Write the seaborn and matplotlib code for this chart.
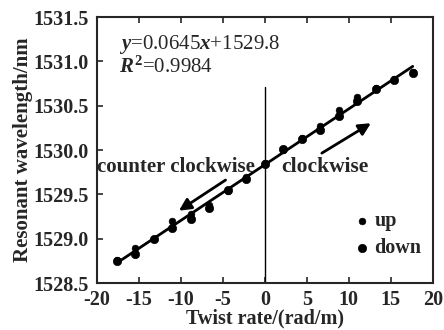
import numpy as np
import pandas as pd
import matplotlib
matplotlib.use("Agg")
import matplotlib.pyplot as plt
import seaborn as sns

# Dados
twist_rate = [-17.6, -15.4, -13.2, -11.0, -8.8, -6.6, -4.4, -2.2, 0.0,
              2.2, 4.4, 6.6, 8.8, 11.0, 13.2, 15.4, 17.6]
wl_up = [1528.76, 1528.90, 1529.00, 1529.20, 1529.28, 1529.38, 1529.54, 1529.70, 1529.85,
         1530.00, 1530.14, 1530.27, 1530.45, 1530.60, 1530.70, 1530.80, 1530.88]
wl_down = [1528.75, 1528.83, 1529.00, 1529.12, 1529.22, 1529.35, 1529.55, 1529.68, 1529.84,
           1530.01, 1530.13, 1530.23, 1530.38, 1530.55, 1530.69, 1530.79, 1530.87]
x_ticks = [-20, -15, -10, -5, 0, 5, 10, 15, 20]
y_ticks = [1528.5, 1529.0, 1529.5, 1530.0, 1530.5, 1531.0, 1531.5]

sns.set_style("ticks")
plt.rcParams['font.family'] = ['Liberation Serif', 'DejaVu Serif']
plt.rcParams['font.weight'] = 'bold'
plt.rcParams['axes.labelweight'] = 'bold'
plt.rcParams['axes.unicode_minus'] = False
plt.rcParams['mathtext.fontset'] = 'custom'
plt.rcParams['mathtext.rm'] = 'Liberation Serif'
plt.rcParams['mathtext.it'] = 'Liberation Serif:italic'

df = pd.DataFrame({
    'x': twist_rate * 2,
    'y': wl_up + wl_down,
    'dir': ['up'] * len(twist_rate) + ['down'] * len(twist_rate),
})

fig = plt.figure(figsize=(4.44, 3.30), dpi=100)
ax = fig.add_axes([0.218, 0.142, 0.757, 0.806])

# reta ajustada
sns.regplot(x='x', y='y', data=df, scatter=False, ci=None, ax=ax,
            color='black', line_kws={'lw': 2.0}, truncate=True)

sns.scatterplot(x='x', y='y', data=df[df['dir'] == 'up'], ax=ax, color='black',
                s=24, edgecolor='black', label='up', zorder=3)
sns.scatterplot(x='x', y='y', data=df[df['dir'] == 'down'], ax=ax, color='black',
                s=36, edgecolor='black', label='down', zorder=3)

# linha vertical em x = 0
ax.plot([0, 0], [1528.5, 1530.71], color='black', lw=1.0)

# setas
ax.annotate('', xy=(-10.5, 1529.3), xytext=(-4.4, 1529.68),
            arrowprops=dict(arrowstyle='-|>', color='black', lw=2.0, mutation_scale=18))
ax.annotate('', xy=(12.9, 1530.32), xytext=(6.5, 1529.95),
            arrowprops=dict(arrowstyle='-|>', color='black', lw=2.0, mutation_scale=18))

ax.text(-20, 1529.81, 'counter clockwise', fontsize=15, va='center', ha='left')
ax.text(2.0, 1529.81, 'clockwise', fontsize=15.5, va='center', ha='left')
ax.text(-17.4, 1531.19, r'$y$=0.0645$x$+1529.8', fontsize=15, va='center',
        fontweight='normal')
ax.text(-17.4, 1530.94, r'$R^{2}$=0.9984', fontsize=15, va='center', fontweight='normal')

ax.set_xlim(-20, 20)
ax.set_ylim(1528.5, 1531.5)
ax.set_xticks(x_ticks)
ax.set_yticks(y_ticks)
ax.set_yticklabels([f"{v:.1f}" for v in y_ticks])
ax.tick_params(direction='in', labelsize=14.5, length=4, width=1.2, top=True, right=False)
ax.tick_params(axis='x', pad=5)
ax.tick_params(axis='y', pad=6)
ax.set_xlabel('Twist rate/(rad/m)', fontsize=14.5, labelpad=-1)
ax.set_ylabel('Resonant wavelength/nm', fontsize=15, labelpad=0)
for sp in ax.spines.values():
    sp.set_linewidth(1.5)

leg = ax.legend(loc='lower right', bbox_to_anchor=(1.02, 0.025), frameon=False,
                fontsize=14.5, handletextpad=0.1, handlelength=1.0,
                markerscale=1.0, labelspacing=0.35)

fig.savefig('out.png', dpi=100)
